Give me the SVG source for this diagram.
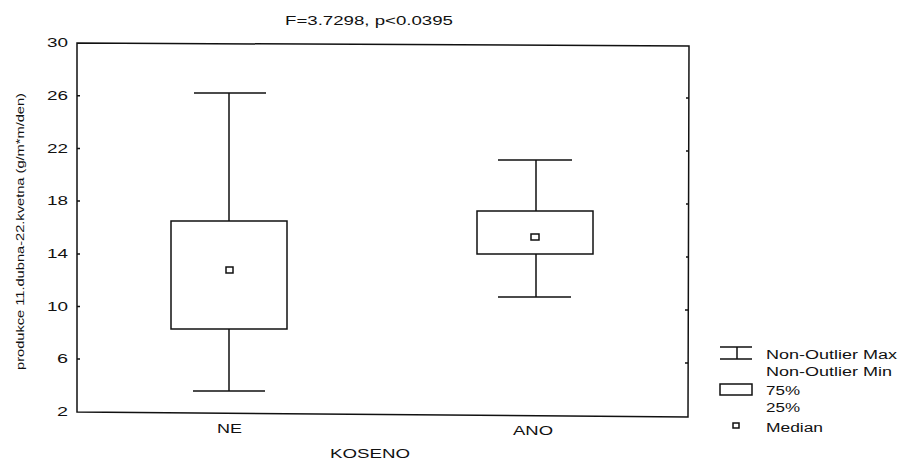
<svg xmlns="http://www.w3.org/2000/svg" width="901" height="463" viewBox="0 0 901 463">
<style>
.ln{stroke:#111;stroke-width:1.5;fill:none}
.bx{stroke:#111;stroke-width:1.5;fill:#fff}
.t{font-family:"Liberation Sans",Arial,sans-serif;fill:#111}
.tk{font-size:12.5px;text-anchor:end}
.lg{font-size:12.5px}
</style>
<rect width="901" height="463" fill="#fff"/>
<text class="t" x="285" y="25" font-size="12.5" textLength="168" lengthAdjust="spacingAndGlyphs">F=3.7298, p&lt;0.0395</text>
<g id="frame">
<path class="ln" d="M77,43 L689,46 L688,417 L77,412 Z"/>
<path class="ln" stroke-width="1" d="M77,95.7h3M77,148.4h3M77,201h3M77,254h3M77,306.5h3M77,359h3M689,98h-3M689,151h-3M689,204h-3M689,257h-3M688,310h-3M688,363h-3"/>
</g>
<g id="yticks" class="t tk">
<text x="68" y="47" textLength="21" lengthAdjust="spacingAndGlyphs">30</text>
<text x="68" y="100" textLength="21" lengthAdjust="spacingAndGlyphs">26</text>
<text x="68" y="152.5" textLength="21" lengthAdjust="spacingAndGlyphs">22</text>
<text x="68" y="205" textLength="21" lengthAdjust="spacingAndGlyphs">18</text>
<text x="68" y="258" textLength="21" lengthAdjust="spacingAndGlyphs">14</text>
<text x="68" y="310.5" textLength="21" lengthAdjust="spacingAndGlyphs">10</text>
<text x="68" y="363" textLength="11" lengthAdjust="spacingAndGlyphs">6</text>
<text x="68" y="416" textLength="11" lengthAdjust="spacingAndGlyphs">2</text>
</g>
<text class="t" transform="translate(24,370) rotate(-90)" font-size="11" textLength="277" lengthAdjust="spacingAndGlyphs">produkce 11.dubna-22.kvetna (g/m*m/den)</text>
<g id="NE">
<path class="ln" d="M194,93H266M229,93V221M229,329V391M193,391H265"/>
<rect class="bx" x="171" y="221" width="116" height="108"/>
<rect class="bx" x="226" y="267" width="7" height="6"/>
<text class="t" x="217" y="433" font-size="12.5" textLength="25" lengthAdjust="spacingAndGlyphs">NE</text>
</g>
<g id="ANO">
<path class="ln" d="M498,160H572M536,160V211M536,254V297M498,297H571"/>
<rect class="bx" x="477" y="211" width="116" height="43"/>
<rect class="bx" x="531" y="234" width="8" height="6"/>
<text class="t" x="513" y="435" font-size="12.5" textLength="40" lengthAdjust="spacingAndGlyphs">ANO</text>
</g>
<text class="t" x="330" y="458" font-size="12.5" textLength="80" lengthAdjust="spacingAndGlyphs">KOSENO</text>
<g id="legend">
<path class="ln" d="M720,347H752M720,359H752M737,347V359"/>
<rect class="bx" x="720" y="384" width="32" height="11"/>
<rect class="bx" x="733" y="423" width="6" height="5"/>
<text class="t lg" x="766" y="359" textLength="131" lengthAdjust="spacingAndGlyphs">Non-Outlier Max</text>
<text class="t lg" x="766" y="376" textLength="126" lengthAdjust="spacingAndGlyphs">Non-Outlier Min</text>
<text class="t lg" x="766" y="395" textLength="34" lengthAdjust="spacingAndGlyphs">75%</text>
<text class="t lg" x="766" y="412" textLength="34" lengthAdjust="spacingAndGlyphs">25%</text>
<text class="t lg" x="766" y="432" textLength="57" lengthAdjust="spacingAndGlyphs">Median</text>
</g>
</svg>
